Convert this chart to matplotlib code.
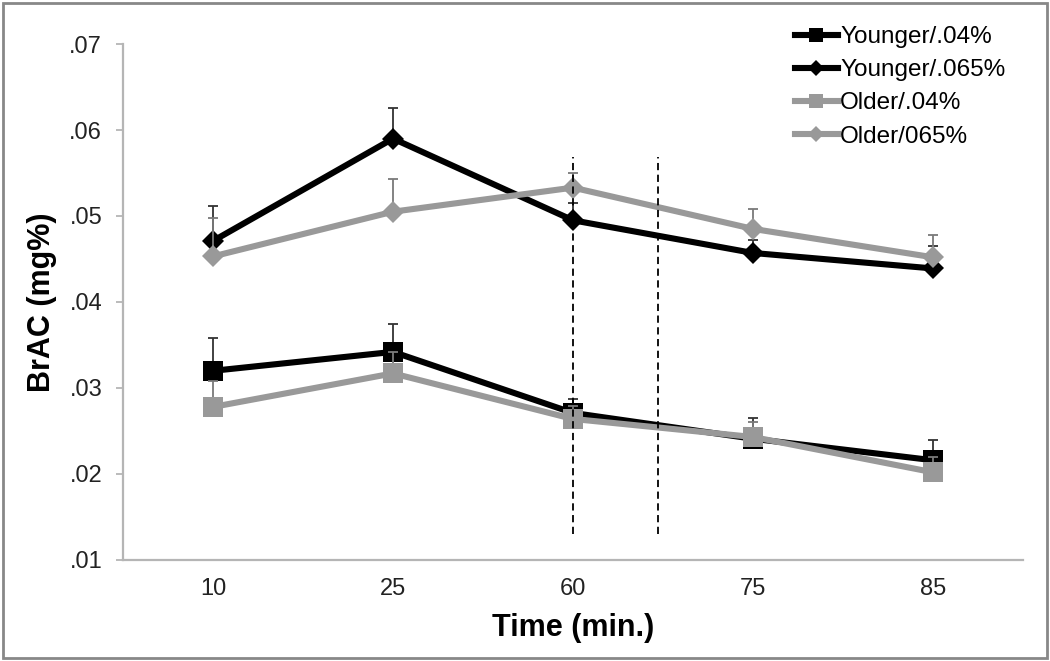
import matplotlib
matplotlib.use("Agg")
import matplotlib.pyplot as plt
import matplotlib.patches as mpatches
import numpy as np

plt.rcParams['font.family'] = ['Liberation Sans', 'DejaVu Sans']

# data
times = ["10", "25", "60", "75", "85"]
y_ticks = [0.01, 0.02, 0.03, 0.04, 0.05, 0.06, 0.07]
y_tick_labels = [".01", ".02", ".03", ".04", ".05", ".06", ".07"]

younger_04 = [0.0320, 0.0342, 0.0271, 0.0241, 0.0216]
younger_04_err = [0.0038, 0.0032, 0.0016, 0.0024, 0.0024]
younger_065 = [0.0471, 0.0590, 0.0495, 0.0457, 0.0439]
younger_065_err = [0.0041, 0.0036, 0.0020, 0.0015, 0.0026]
older_04 = [0.0278, 0.0317, 0.0264, 0.0243, 0.0202]
older_04_err = [0.0030, 0.0025, 0.0015, 0.0017, 0.0018]
older_065 = [0.0453, 0.0505, 0.0533, 0.0485, 0.0452]
older_065_err = [0.0045, 0.0038, 0.0017, 0.0023, 0.0026]

# dashed markers between 60 and 75
dash_x = [2.0, 2.47]
dash_range = (0.0130, 0.0569)

fig = plt.figure(figsize=(10.5, 6.61), dpi=100)
ax = fig.add_axes([123 / 1050, 1 - 560 / 661, 900 / 1050, 516 / 661])

x = np.arange(len(times))
GRAY = "#999999"

series = [
    ("Younger/.04%", younger_04, younger_04_err, "black", "s", 14),
    ("Younger/.065%", younger_065, younger_065_err, "black", "D", 11),
    ("Older/.04%", older_04, older_04_err, GRAY, "s", 14),
    ("Older/065%", older_065, older_065_err, GRAY, "D", 11),
]

handles = []
for i, (name, vals, err, col, mk, ms) in enumerate(series):
    ecol = "#333333" if col == "black" else "#7a7a7a"
    ax.errorbar(x, vals, yerr=[np.zeros(len(err)), err], fmt="none",
                ecolor=ecol, elinewidth=1.3, capsize=3.8, capthick=1.3,
                zorder=2 + i)
    h, = ax.plot(x, vals, color=col, lw=4.4, marker=mk, markersize=ms,
                 markeredgewidth=0, label=name, zorder=3 + i)
    handles.append(h)

for dx in dash_x:
    ax.plot([dx, dx], dash_range, color="black", lw=1.3,
            linestyle=(0, (4, 2.5)), zorder=10)

ax.set_xlim(-0.5, 4.5)
ax.set_ylim(0.01, 0.07)
ax.set_xticks(x)
ax.set_xticklabels(times)
ax.set_yticks(y_ticks)
ax.set_yticklabels(y_tick_labels)

for s in ["top", "right"]:
    ax.spines[s].set_visible(False)
for s in ["left", "bottom"]:
    ax.spines[s].set_color("#b5b5b5")
    ax.spines[s].set_linewidth(1.6)

ax.tick_params(axis="y", length=5, width=1.3, color="#b5b5b5", pad=10,
               labelsize=17, labelcolor="#222222")
ax.tick_params(axis="x", length=0, pad=13, labelsize=17,
               labelcolor="#222222")

ax.set_xlabel("Time (min.)", fontsize=22, fontweight="bold", labelpad=9)
ax.set_ylabel("BrAC (mg%)", fontsize=22, fontweight="bold", labelpad=9)

fig.legend(handles=handles, loc="upper left",
           bbox_to_anchor=(795 / 1050, 1 - 26 / 661), frameon=False,
           fontsize=17.5, handlelength=1.75, handletextpad=0.1,
           labelspacing=0.46, borderpad=0, borderaxespad=0, markerscale=0.7)

# grey frame around the whole picture
fig.patches.append(mpatches.Rectangle((0.003, 0.004), 0.994, 0.992,
                                      transform=fig.transFigure, fill=False,
                                      edgecolor="#888888", linewidth=2))

fig.savefig("out.png", dpi=100)
